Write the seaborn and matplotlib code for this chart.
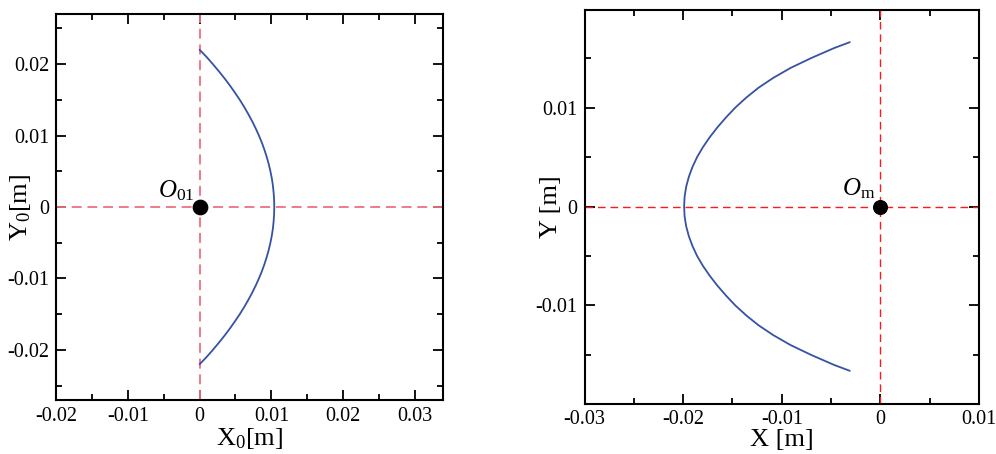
import matplotlib
matplotlib.use("Agg")
import matplotlib.pyplot as plt
import seaborn as sns
import pandas as pd
from matplotlib.ticker import MultipleLocator, FixedLocator, FixedFormatter

# Trajectory in the local frame (X0, Y0) around O01
local_y = [0.022, 0.021, 0.020, 0.019, 0.018, 0.017, 0.016, 0.015, 0.014, 0.013, 0.012, 0.011,
           0.010, 0.009, 0.008, 0.007, 0.006, 0.005, 0.004, 0.003, 0.002, 0.001, 0.000,
           -0.001, -0.002, -0.003, -0.004, -0.005, -0.006, -0.007, -0.008, -0.009, -0.010,
           -0.011, -0.012, -0.013, -0.014, -0.015, -0.016, -0.017, -0.018, -0.019, -0.020,
           -0.021, -0.022]
local_x = [0.00000, 0.00096, 0.00184, 0.00267, 0.00347, 0.00422, 0.00492, 0.00559, 0.00621, 0.00678,
           0.00732, 0.00781, 0.00826, 0.00867, 0.00903, 0.00935, 0.00963, 0.00986, 0.01006, 0.01021,
           0.01031, 0.01038, 0.01040,
           0.01038, 0.01031, 0.01021, 0.01006, 0.00986, 0.00963, 0.00935, 0.00903, 0.00867, 0.00826,
           0.00781, 0.00732, 0.00678, 0.00621, 0.00559, 0.00492, 0.00422, 0.00347, 0.00267, 0.00184,
           0.00096, 0.00000]

# Trajectory in the machine frame (X, Y) around Om
machine_y = [0.0166, 0.016, 0.015, 0.014, 0.013, 0.012, 0.011, 0.010, 0.009, 0.008, 0.007, 0.006,
             0.005, 0.004, 0.003, 0.002, 0.001, 0.000,
             -0.001, -0.002, -0.003, -0.004, -0.005, -0.006, -0.007, -0.008, -0.009, -0.010,
             -0.011, -0.012, -0.013, -0.014, -0.015, -0.016, -0.0166]
machine_x = [-0.0031, -0.0047, -0.0070, -0.0091, -0.01085, -0.01235, -0.0136, -0.0147, -0.01565, -0.01652,
             -0.0173, -0.01799, -0.01858, -0.01905, -0.01942, -0.01969, -0.01985, -0.0199,
             -0.01985, -0.01969, -0.01942, -0.01905, -0.01858, -0.01799, -0.0173, -0.01652, -0.01565,
             -0.0147, -0.0136, -0.01235, -0.01085, -0.0091, -0.0070, -0.0047, -0.0031]

left_xticks = [-0.02, -0.01, 0.0, 0.01, 0.02, 0.03]
left_xlabels = ["-0.02", "-0.01", "0", "0.01", "0.02", "0.03"]
left_yticks = [-0.02, -0.01, 0.0, 0.01, 0.02]
left_ylabels = ["-0.02", "-0.01", "0", "0.01", "0.02"]
right_xticks = [-0.03, -0.02, -0.01, 0.0, 0.01]
right_xlabels = ["-0.03", "-0.02", "-0.01", "0", "0.01"]
right_yticks = [-0.01, 0.0, 0.01]
right_ylabels = ["-0.01", "0", "0.01"]

sns.set_theme(style="ticks")
plt.rcParams["font.family"] = ["Liberation Serif", "DejaVu Serif"]
plt.rcParams["mathtext.fontset"] = "custom"
plt.rcParams["mathtext.rm"] = "Liberation Serif"
plt.rcParams["mathtext.it"] = "Liberation Serif:italic"
plt.rcParams["axes.unicode_minus"] = False
plt.rcParams["xtick.labelsize"] = 14.5
plt.rcParams["ytick.labelsize"] = 14.5
plt.rcParams["text.color"] = "black"
plt.rcParams["axes.labelcolor"] = "black"

W, H = 996, 454
fig = plt.figure(figsize=(W / 100, H / 100), dpi=100)
ax1 = fig.add_axes([56 / W, 1 - 400 / H, (443 - 56) / W, (400 - 14) / H])
ax2 = fig.add_axes([584.5 / W, 1 - 403.5 / H, (979 - 584.5) / W, (403.5 - 9.5) / H])

curve_color = "#3552a3"


def style_axes(ax, xt, xl, yt, yl):
    ax.xaxis.set_major_locator(FixedLocator(xt))
    ax.xaxis.set_major_formatter(FixedFormatter(xl))
    ax.yaxis.set_major_locator(FixedLocator(yt))
    ax.yaxis.set_major_formatter(FixedFormatter(yl))
    ax.xaxis.set_minor_locator(MultipleLocator(0.005))
    ax.yaxis.set_minor_locator(MultipleLocator(0.005))
    ax.tick_params(which="both", direction="in", top=True, right=True, labelsize=14.5,
                   color="black", labelcolor="black", width=1.3)
    ax.tick_params(which="major", length=7, pad=5)
    ax.tick_params(which="minor", length=4)
    for s in ax.spines.values():
        s.set_visible(True)
        s.set_linewidth(1.5)
        s.set_color("black")
    ax.set_facecolor("white")
    ax.grid(False)


# Left panel
df_local = pd.DataFrame({"x": local_x, "y": local_y})
ax1.axhline(0, color="#f07080", lw=1.3, dashes=(5.5, 3.2), zorder=1)
ax1.axvline(0, color="#f07080", lw=1.3, dashes=(5.5, 3.2), zorder=1)
sns.lineplot(data=df_local, x="x", y="y", sort=False, estimator=None, ax=ax1,
             color=curve_color, lw=1.3, zorder=2)
sns.scatterplot(x=[0.0], y=[0.0], ax=ax1, color="black", s=110, edgecolor="black", zorder=3)
ax1.set_xlim(-0.02, 0.0339)
ax1.set_ylim(-0.027, 0.027)
style_axes(ax1, left_xticks, left_xlabels, left_yticks, left_ylabels)
ax1.set_xlabel(r"X$_{\mathrm{0}}$[m]", fontsize=19, labelpad=0, color="black")
ax1.set_ylabel(r"Y$_{\mathrm{0}}$[m]", fontsize=19, color="black")
ax1.yaxis.set_label_coords(-0.06, 0.5)
ax1.text(-0.0032, 0.0013, r"$O_{\mathrm{01}}$", fontsize=18, ha="center", va="baseline",
         color="black")

# Right panel
df_machine = pd.DataFrame({"x": machine_x, "y": machine_y})
ax2.axhline(0, color="#ff1a1a", lw=1.0, dashes=(5.5, 3.5), zorder=1)
ax2.axvline(0, color="#ff1a1a", lw=1.0, dashes=(5.5, 3.5), zorder=1)
sns.lineplot(data=df_machine, x="x", y="y", sort=False, estimator=None, ax=ax2,
             color=curve_color, lw=1.3, zorder=2)
sns.scatterplot(x=[0.0], y=[0.0], ax=ax2, color="black", s=100, edgecolor="black", zorder=3)
ax2.set_xlim(-0.03, 0.01)
ax2.set_ylim(-0.0199, 0.0199)
style_axes(ax2, right_xticks, right_xlabels, right_yticks, right_ylabels)
ax2.set_xlabel("X [m]", fontsize=19, labelpad=0, color="black")
ax2.set_ylabel("Y [m]", fontsize=19, color="black")
ax2.yaxis.set_label_coords(-0.056, 0.5)
ax2.text(-0.0022, 0.0011, r"$O_{\mathrm{m}}$", fontsize=18, ha="center", va="baseline",
         color="black")

fig.savefig("out.png", dpi=100, facecolor="white")
